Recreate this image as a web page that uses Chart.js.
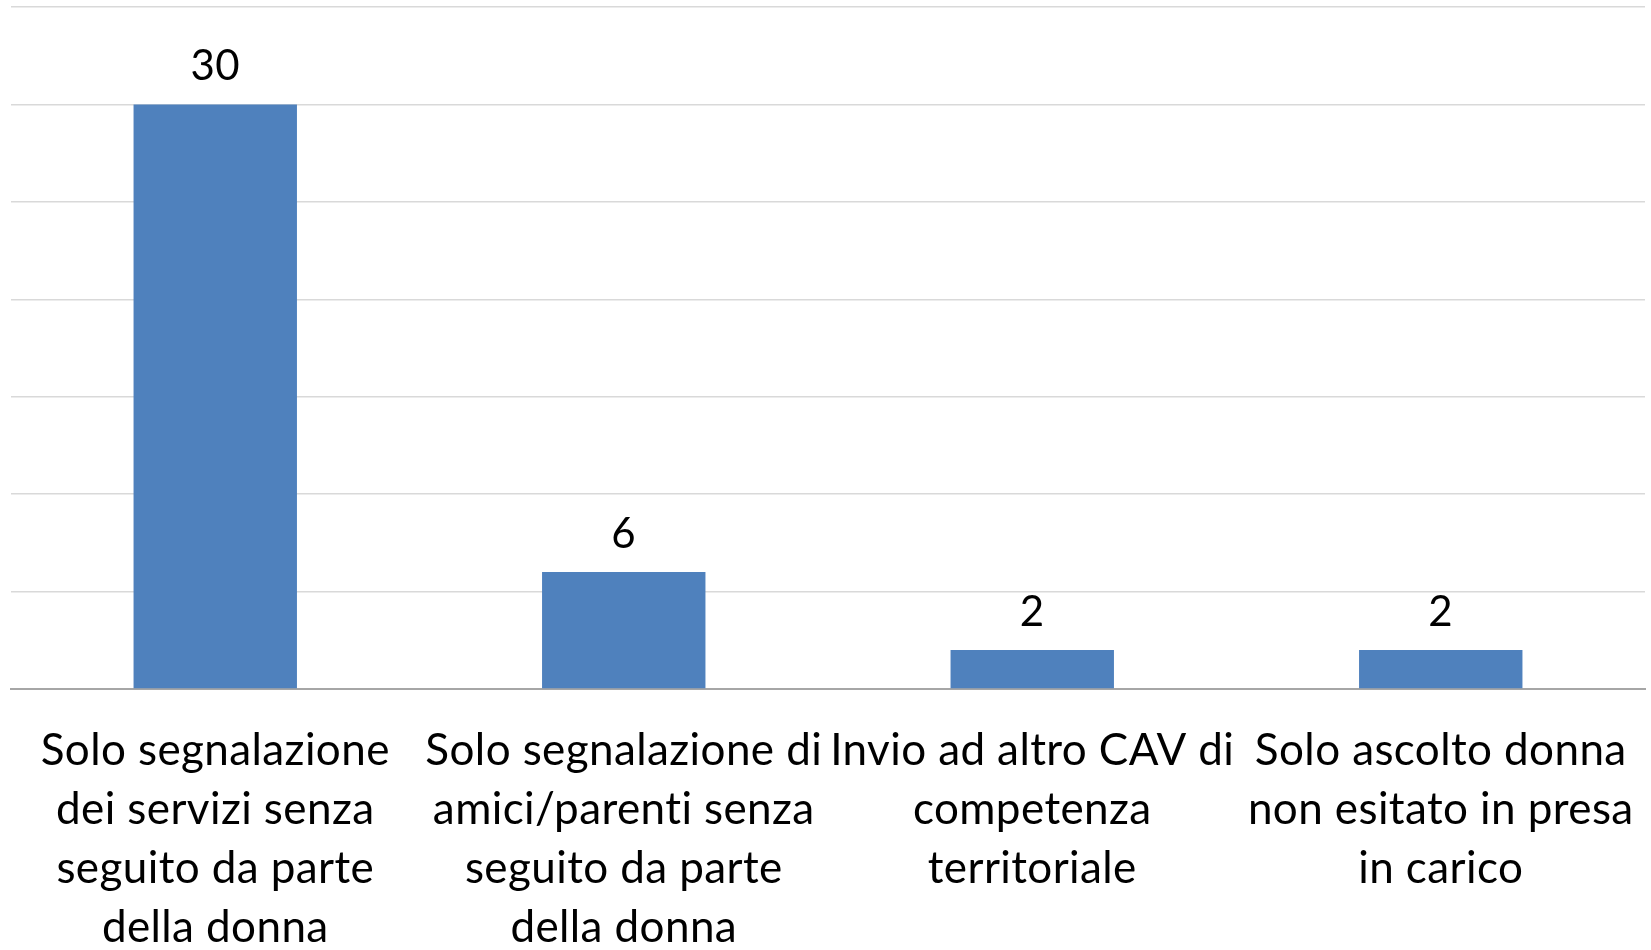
<!DOCTYPE html>
<html><head><meta charset="utf-8">
<script src="https://cdn.jsdelivr.net/npm/chart.js@4.4.1/dist/chart.umd.min.js"></script>
<style>html,body{margin:0;padding:0;background:#fff;}#wrap{width:1651px;height:950px;}</style>
</head><body><div id="wrap"><canvas id="c" width="1651" height="950"></canvas></div>
<script>
const categories = [
  ["Solo segnalazione", "dei servizi senza", "seguito da parte", "della donna"],
  ["Solo segnalazione di", "amici/parenti senza", "seguito da parte", "della donna"],
  ["Invio ad altro CAV di", "competenza", "territoriale"],
  ["Solo ascolto donna", "non esitato in presa", "in carico"]
];
const values = [30, 6, 2, 2];
const yMax = 35;
const yStep = 5;

const FONT = "Lato, 'Open Sans', sans-serif";

const noLigatures = {
  id: 'noLigatures',
  beforeDraw(chart) {
    chart.ctx.letterSpacing = '0.4px';
  }
};

const valueLabels = {
  id: 'valueLabels',
  afterDatasetsDraw(chart) {
    const ctx = chart.ctx;
    const meta = chart.getDatasetMeta(0);
    ctx.save();
    ctx.fillStyle = '#000';
    ctx.font = '42px ' + FONT;
    ctx.textAlign = 'center';
    ctx.textBaseline = 'alphabetic';
    meta.data.forEach((bar, i) => {
      ctx.fillText(String(values[i]), bar.x, bar.y - 24);
    });
    ctx.restore();
  }
};

new Chart(document.getElementById('c'), {
  type: 'bar',
  data: {
    labels: categories,
    datasets: [{
      data: values,
      backgroundColor: '#4F81BD',
      borderWidth: 0,
      categoryPercentage: 1,
      barPercentage: 0.4
    }]
  },
  options: {
    responsive: false,
    animation: false,
    devicePixelRatio: 1,
    layout: { padding: { left: 11, right: 6, top: 7, bottom: 0 } },
    plugins: { legend: { display: false }, tooltip: { enabled: false } },
    scales: {
      x: {
        grid: { display: false, drawTicks: false },
        border: { display: true, color: '#a6a6a6', width: 2 },
        ticks: {
          color: '#000',
          font: { family: FONT, size: 44, lineHeight: 1.34 },
          maxRotation: 0, minRotation: 0, autoSkip: false,
          padding: 32
        },
        afterFit(scale) {
          scale.height = 261;
          scale.paddingLeft = 0;
          scale.paddingRight = 0;
        }
      },
      y: {
        min: 0, max: yMax,
        ticks: { display: false, stepSize: yStep },
        grid: { color: '#d9d9d9', lineWidth: 1.5, drawTicks: false },
        border: { display: false }
      }
    }
  },
  plugins: [noLigatures, valueLabels]
});
</script>
</body></html>
